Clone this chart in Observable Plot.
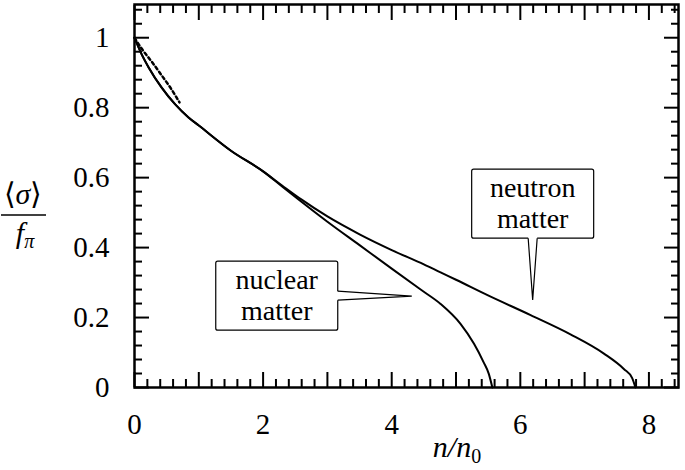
<!DOCTYPE html>
<html><head><meta charset="utf-8">
<script src="https://cdn.jsdelivr.net/npm/d3@7"></script>
<script src="https://cdn.jsdelivr.net/npm/@observablehq/plot@0.6"></script>
<style>
@font-face{font-family:"CMSerif";font-style:normal;src:local("Liberation Serif"),local("LiberationSerif"),local("LiberationSerif-Regular");}
@font-face{font-family:"CMSerif";font-style:italic;src:local("Liberation Serif Italic"),local("LiberationSerif-Italic");}
body{margin:0;background:#fff;font-family:"Liberation Serif",serif}
svg text{font-family:"Liberation Serif",CMSerif,serif}
</style>
</head><body><div id="chart"></div>
<script>
// ---- data ----
const nuclearX = [0, 0.11, 0.22, 0.42, 0.63, 0.84, 1.0, 1.5, 2.0, 2.3, 3.0, 3.5, 4.0, 4.45, 4.76, 5.07, 5.28, 5.43, 5.51, 5.565];
const nuclearY = [1, 0.953, 0.915, 0.858, 0.81, 0.772, 0.749, 0.677, 0.618, 0.574, 0.474, 0.407, 0.34, 0.28, 0.239, 0.182, 0.125, 0.072, 0.039, 0];
const neutronX = [0, 0.11, 0.22, 0.42, 0.63, 0.84, 1.0, 1.5, 2.0, 2.3, 2.6, 3.0, 3.5, 4.0, 4.5, 4.76, 5.0, 5.49, 6.16, 6.78, 7.3, 7.61, 7.74, 7.79];
const neutronY = [1, 0.953, 0.915, 0.858, 0.81, 0.772, 0.749, 0.677, 0.618, 0.577, 0.537, 0.489, 0.438, 0.393, 0.352, 0.329, 0.308, 0.264, 0.207, 0.152, 0.097, 0.053, 0.027, 0];
const lowDensX = [0, 0.11, 0.27, 0.42, 0.58, 0.7];
const lowDensY = [1, 0.969, 0.931, 0.893, 0.851, 0.815];

const xTickLabels = [0, 2, 4, 6, 8];
const xMajorTicks = [0, 1, 2, 3, 4, 5, 6, 7, 8];
const yTickLabels = [0, 0.2, 0.4, 0.6, 0.8, 1];
const xMinorTicks = [0.2,0.4,0.6,0.8,1.2,1.4,1.6,1.8,2.2,2.4,2.6,2.8,3.2,3.4,3.6,3.8,4.2,4.4,4.6,4.8,5.2,5.4,5.6,5.8,6.2,6.4,6.6,6.8,7.2,7.4,7.6,7.8,8.2,8.4];
const yMinorTicks = [0.04,0.08,0.12,0.16,0.24,0.28,0.32,0.36,0.44,0.48,0.52,0.56,0.64,0.68,0.72,0.76,0.84,0.88,0.92,0.96,1.04,1.08];

const notes = [
  {lines: ["nuclear", "matter"], x: 2.22, y: 0.261, tipX: 4.32, tipY: 0.26, side: "right"},
  {lines: ["neutron", "matter"], x: 6.2, y: 0.524, tipX: 6.2, tipY: 0.249, side: "bottom"}
];

const toRows = (xs, ys) => xs.map((x, i) => ({x, y: ys[i]}));
const nuclear = toRows(nuclearX, nuclearY);
const neutron = toRows(neutronX, neutronY);
const lowDens = toRows(lowDensX, lowDensY);

const FONT = "Liberation Serif";
const FS = 29;
const blank = () => "";

const plot = Plot.plot({
  width: 685, height: 470,
  marginLeft: 134, marginRight: 7, marginTop: 4, marginBottom: 83,
  style: {fontFamily: FONT, fontSize: FS + "px", background: "white", color: "black"},
  x: {domain: [0, 8.46]},
  y: {domain: [0, 1.095]},
  marks: [
    Plot.line(nuclear, {x: "x", y: "y", curve: "monotone-x", stroke: "black", strokeWidth: 2}),
    Plot.line(neutron, {x: "x", y: "y", curve: "monotone-x", stroke: "black", strokeWidth: 2}),
    Plot.line(lowDens, {x: "x", y: "y", curve: "monotone-x", stroke: "black", strokeWidth: 2.5, strokeDasharray: "3,3"}),
    Plot.axisX(xMinorTicks, {anchor: "bottom", tickSize: -8, tickFormat: blank, label: null, strokeWidth: 2}),
    Plot.axisX(xMajorTicks, {anchor: "bottom", tickSize: -15, tickFormat: blank, label: null, strokeWidth: 2}),
    Plot.axisX(xMinorTicks, {anchor: "top", tickSize: -8, tickFormat: blank, label: null, strokeWidth: 2}),
    Plot.axisX(xMajorTicks, {anchor: "top", tickSize: -15, tickFormat: blank, label: null, strokeWidth: 2}),
    Plot.axisY(yMinorTicks, {anchor: "left", tickSize: -8, tickFormat: blank, label: null, strokeWidth: 2}),
    Plot.axisY(yTickLabels, {anchor: "left", tickSize: -15, tickFormat: blank, label: null, strokeWidth: 2}),
    Plot.axisY(yMinorTicks, {anchor: "right", tickSize: -8, tickFormat: blank, label: null, strokeWidth: 2}),
    Plot.axisY(yTickLabels, {anchor: "right", tickSize: -15, tickFormat: blank, label: null, strokeWidth: 2}),
    Plot.axisX(xTickLabels, {anchor: "bottom", tickSize: 0, tickPadding: 26, tickFormat: d => String(d), label: null, fontSize: FS, fontFamily: FONT}),
    Plot.axisY(yTickLabels, {anchor: "left", tickSize: 0, tickPadding: 25, tickFormat: d => String(d), label: null, fontSize: FS, fontFamily: FONT}),
    Plot.frame({stroke: "black", strokeWidth: 2.5})
  ]
});

document.getElementById("chart").appendChild(plot);

const svg = d3.select(plot);
const sx = plot.scale("x"), sy = plot.scale("y");
const X = v => sx.apply(v), Y = v => sy.apply(v);

const BW = 122, BH = 69, HALF = 4.5;
const g = svg.append("g");
for (const n of notes) {
  const cx = X(n.x), cy = Y(n.y), tx = X(n.tipX), ty = Y(n.tipY);
  g.append("rect").attr("x", cx - BW / 2).attr("y", cy - BH / 2).attr("width", BW).attr("height", BH)
    .attr("rx", 2).attr("fill", "white").attr("stroke", "black").attr("stroke-width", 1.2);
  let a, b;
  if (n.side === "right") { a = [cx + BW / 2, cy - HALF]; b = [cx + BW / 2, cy + HALF]; }
  else { a = [cx - HALF, cy + BH / 2]; b = [cx + HALF, cy + BH / 2]; }
  const ins = n.side === "right" ? [[a[0] - 2, a[1]], [b[0] - 2, b[1]]] : [[a[0], a[1] - 2], [b[0], b[1] - 2]];
  g.append("path").attr("d", `M${ins[0]}L${a}L${tx},${ty}L${b}L${ins[1]}Z`).attr("fill", "white").attr("stroke", "none");
  g.append("path").attr("d", `M${a}L${tx},${ty}L${b}`).attr("fill", "none").attr("stroke", "black").attr("stroke-width", 1.2);
  n.lines.forEach((line, i) => {
    g.append("text").attr("x", cx).attr("y", cy + (i === 0 ? -7 : 24.5)).attr("text-anchor", "middle")
      .attr("font-family", FONT).attr("font-size", 28).attr("fill", "black").text(line);
  });
}

// x-axis label n/n0
const xl = svg.append("text").attr("x", 457).attr("y", 457).attr("text-anchor", "middle")
  .attr("font-family", FONT).attr("font-size", 30).attr("fill", "black");
xl.append("tspan").attr("font-style", "italic").text("n/n");
xl.append("tspan").attr("font-size", 20).attr("dy", 6).text("0");

// y-axis label <sigma>/f_pi
const yl = svg.append("g").attr("font-family", FONT).attr("font-size", 30).attr("fill", "black");
const numer = yl.append("text").attr("x", 23).attr("y", 204).attr("text-anchor", "middle");
numer.append("tspan").text("⟨");
numer.append("tspan").attr("font-style", "italic").text("σ");
numer.append("tspan").text("⟩");
yl.append("line").attr("x1", 1).attr("x2", 46).attr("y1", 215).attr("y2", 215).attr("stroke", "black").attr("stroke-width", 1.5);
const denom = yl.append("text").attr("x", 25).attr("y", 243).attr("text-anchor", "middle");
denom.append("tspan").attr("font-style", "italic").text("f");
denom.append("tspan").attr("font-style", "italic").attr("font-size", 20).attr("dy", 5).text("π");
</script>
</body></html>
